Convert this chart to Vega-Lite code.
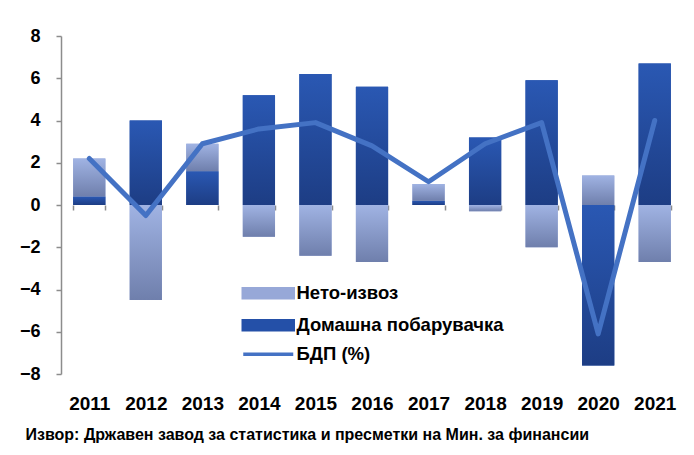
{
  "$schema": "https://vega.github.io/schema/vega-lite/v6.json",
  "width": 622,
  "height": 338,
  "autosize": "none",
  "padding": {"left": 61, "top": 36, "right": 11, "bottom": 81},
  "background": "white",
  "config": {"view": {"stroke": null}, "font": "Liberation Sans"},
  "title": {
    "text": "Извор: Државен завод за статистика и пресметки на Мин. за финансии",
    "orient": "bottom",
    "anchor": "start",
    "dx": 6,
    "offset": 14,
    "font": "Liberation Sans",
    "fontSize": 16,
    "fontWeight": "bold",
    "color": "black"
  },
  "datasets": {
    "bars": [
      {"year": "2011", "series": "Домашна побарувачка", "value": 0.4},
      {"year": "2011", "series": "Нето-извоз", "value": 1.8},
      {"year": "2012", "series": "Домашна побарувачка", "value": 4.0},
      {"year": "2012", "series": "Нето-извоз", "value": -4.5},
      {"year": "2013", "series": "Домашна побарувачка", "value": 1.6},
      {"year": "2013", "series": "Нето-извоз", "value": 1.3},
      {"year": "2014", "series": "Домашна побарувачка", "value": 5.2},
      {"year": "2014", "series": "Нето-извоз", "value": -1.5},
      {"year": "2015", "series": "Домашна побарувачка", "value": 6.2},
      {"year": "2015", "series": "Нето-извоз", "value": -2.4},
      {"year": "2016", "series": "Домашна побарувачка", "value": 5.6},
      {"year": "2016", "series": "Нето-извоз", "value": -2.7},
      {"year": "2017", "series": "Домашна побарувачка", "value": 0.2},
      {"year": "2017", "series": "Нето-извоз", "value": 0.8},
      {"year": "2018", "series": "Домашна побарувачка", "value": 3.2},
      {"year": "2018", "series": "Нето-извоз", "value": -0.3},
      {"year": "2019", "series": "Домашна побарувачка", "value": 5.9},
      {"year": "2019", "series": "Нето-извоз", "value": -2.0},
      {"year": "2020", "series": "Домашна побарувачка", "value": -7.6},
      {"year": "2020", "series": "Нето-извоз", "value": 1.4},
      {"year": "2021", "series": "Домашна побарувачка", "value": 6.7},
      {"year": "2021", "series": "Нето-извоз", "value": -2.7}
    ],
    "gdp": [
      {"year": "2011", "gdp": 2.2},
      {"year": "2012", "gdp": -0.5},
      {"year": "2013", "gdp": 2.9},
      {"year": "2014", "gdp": 3.6},
      {"year": "2015", "gdp": 3.9},
      {"year": "2016", "gdp": 2.8},
      {"year": "2017", "gdp": 1.1},
      {"year": "2018", "gdp": 2.9},
      {"year": "2019", "gdp": 3.9},
      {"year": "2020", "gdp": -6.1},
      {"year": "2021", "gdp": 4.0}
    ]
  },
  "layer": [
    {
      "data": {"name": "bars"},
      "transform": [
        {"stack": "value", "groupby": ["year"], "sort": [{"field": "series", "order": "ascending"}], "as": ["v0", "v1"]}
      ],
      "mark": {"type": "bar"},
      "encoding": {
        "x": {
          "field": "year",
          "type": "ordinal",
          "scale": {"paddingInner": 0.43, "paddingOuter": 0.215},
          "axis": {
            "title": null,
            "orient": "bottom",
            "offset": -169,
            "domain": false,
            "ticks": true,
            "tickSize": 5,
            "tickColor": "#8c8c8c",
            "tickWidth": 1.5,
            "tickBand": "extent",
            "labelPadding": 184,
            "labelAngle": 0,
            "labelFont": "Liberation Sans",
            "labelFontSize": 19,
            "labelFontWeight": "bold",
            "labelColor": "black"
          }
        },
        "y": {
          "field": "v0",
          "type": "quantitative",
          "scale": {"domain": [-8, 8], "nice": false, "zero": false},
          "axis": {
            "title": null,
            "values": [-8, -6, -4, -2, 0, 2, 4, 6, 8],
            "grid": false,
            "domainColor": "#8c8c8c",
            "domainWidth": 1.5,
            "tickColor": "#8c8c8c",
            "tickWidth": 1.5,
            "tickSize": 5,
            "labelPadding": 16,
            "labelFont": "Liberation Sans",
            "labelFontSize": 18,
            "labelFontWeight": "bold",
            "labelColor": "black"
          }
        },
        "y2": {"field": "v1"},
        "color": {
          "field": "series",
          "type": "nominal",
          "scale": {
            "domain": ["Нето-извоз", "Домашна побарувачка", "БДП (%)"],
            "range": ["#97a8d8", "#2450a8", "#4472c4"]
          },
          "legend": {
            "title": null,
            "orient": "none",
            "legendX": 198,
            "legendY": 248,
            "symbolSize": 100,
            "labelOffset": 19,
            "labelLimit": 400,
            "rowPadding": 8,
            "labelFont": "Liberation Sans",
            "labelFontSize": 18.5,
            "labelFontWeight": "bold",
            "labelColor": "black",
            "encode": {
              "symbols": {
                "update": {
                  "shape": {"signal": "datum.value === 'БДП (%)' ? 'M-5,0H5' : 'M-5,-0.9H5V0.9H-5Z'"},
                  "fill": {"signal": "datum.value === 'БДП (%)' ? 'transparent' : scale('color', datum.value)"},
                  "stroke": {"signal": "datum.value === 'БДП (%)' ? '#4472c4' : 'transparent'"},
                  "strokeWidth": {"value": 3.5},
                  "opacity": {"value": 1},
                  "fillOpacity": {"value": 1},
                  "strokeOpacity": {"value": 1}
                }
              }
            }
          }
        }
      }
    },
    {
      "data": {"name": "bars"},
      "transform": [
        {"stack": "value", "groupby": ["year"], "sort": [{"field": "series", "order": "ascending"}], "as": ["v0", "v1"]},
        {"filter": "datum.series === 'Домашна побарувачка'"}
      ],
      "mark": {
        "type": "bar",
        "fill": {
          "gradient": "linear",
          "x1": 0, "y1": 0, "x2": 0, "y2": 1,
          "stops": [
            {"offset": 0, "color": "#2a58b3"},
            {"offset": 1, "color": "#1d3d84"}
          ]
        }
      },
      "encoding": {
        "x": {"field": "year", "type": "ordinal"},
        "y": {"field": "v0", "type": "quantitative"},
        "y2": {"field": "v1"}
      }
    },
    {
      "data": {"name": "bars"},
      "transform": [
        {"stack": "value", "groupby": ["year"], "sort": [{"field": "series", "order": "ascending"}], "as": ["v0", "v1"]},
        {"filter": "datum.series === 'Нето-извоз'"}
      ],
      "mark": {
        "type": "bar",
        "fill": {
          "gradient": "linear",
          "x1": 0, "y1": 0, "x2": 0, "y2": 1,
          "stops": [
            {"offset": 0, "color": "#a0b3e3"},
            {"offset": 1, "color": "#6f7fac"}
          ]
        }
      },
      "encoding": {
        "x": {"field": "year", "type": "ordinal"},
        "y": {"field": "v0", "type": "quantitative"},
        "y2": {"field": "v1"}
      }
    },
    {
      "mark": {"type": "rule", "color": "#8c8c8c", "strokeWidth": 1.5},
      "encoding": {"y": {"datum": 0, "type": "quantitative"}}
    },
    {
      "data": {"name": "gdp"},
      "mark": {"type": "line", "strokeWidth": 5, "strokeCap": "round", "strokeJoin": "round"},
      "encoding": {
        "x": {"field": "year", "type": "ordinal"},
        "y": {"field": "gdp", "type": "quantitative"},
        "color": {"datum": "БДП (%)", "type": "nominal"}
      }
    }
  ]
}
